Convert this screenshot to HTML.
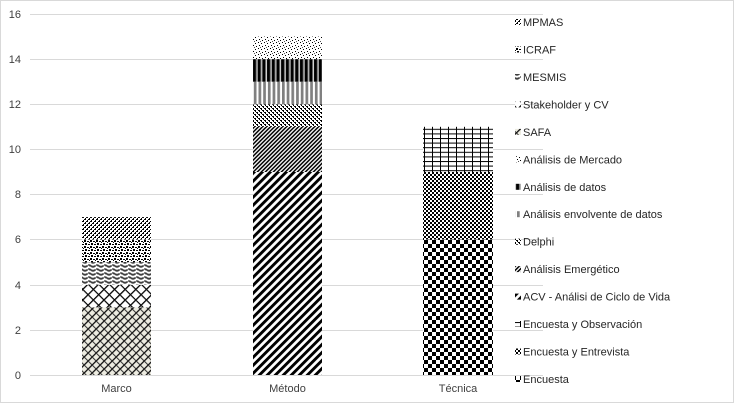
<!DOCTYPE html>
<html><head><meta charset="utf-8"><style>
html,body{margin:0;padding:0;background:#fff;}
svg{display:block;font-family:"Liberation Sans",Arial,sans-serif;}
</style></head><body>
<svg width="734" height="403" viewBox="0 0 734 403" xmlns="http://www.w3.org/2000/svg">
<defs>
  <pattern id="pEnc" width="8" height="8" patternUnits="userSpaceOnUse">
    <rect width="8" height="8" fill="#fff"/>
    <rect x="0" y="0" width="4" height="4" fill="#000"/>
    <rect x="4" y="4" width="4" height="4" fill="#000"/>
  </pattern>
  <pattern id="pEnt" width="4" height="4" patternUnits="userSpaceOnUse">
    <rect width="4" height="4" fill="#fff"/>
    <rect x="0" y="0" width="2" height="2" fill="#000"/>
    <rect x="2" y="2" width="2" height="2" fill="#000"/>
  </pattern>
  <pattern id="pObs" width="8" height="4.6" patternUnits="userSpaceOnUse">
    <rect width="8" height="4.6" fill="#fff"/>
    <rect x="0" y="0" width="1" height="4.6" fill="#000"/>
    <rect x="0" y="0" width="8" height="1" fill="#000"/>
  </pattern>
  <pattern id="pACV" width="5.66" height="5.66" patternUnits="userSpaceOnUse" patternTransform="rotate(45)">
    <rect width="5.66" height="5.66" fill="#fff"/>
    <rect x="0" y="0" width="2.9" height="5.66" fill="#000"/>
  </pattern>
  <pattern id="pEme" width="2.83" height="2.83" patternUnits="userSpaceOnUse" patternTransform="rotate(45)">
    <rect width="2.83" height="2.83" fill="#fff"/>
    <rect x="0" y="0" width="1.5" height="2.83" fill="#000"/>
  </pattern>
  <pattern id="pDel" width="4" height="4" patternUnits="userSpaceOnUse">
    <rect width="4" height="4" fill="#fff"/>
    <rect x="0" y="0" width="2" height="1" fill="#000"/>
    <rect x="1" y="1" width="1" height="1" fill="#000"/>
    <rect x="2" y="2" width="2" height="1" fill="#000"/>
    <rect x="3" y="3" width="1" height="1" fill="#000"/>
  </pattern>
  <pattern id="pEnv" width="4.7" height="4" patternUnits="userSpaceOnUse">
    <rect width="4.7" height="4" fill="#fff"/>
    <rect x="0" y="0" width="2.7" height="4" fill="#808080"/>
  </pattern>
  <pattern id="pDat" width="4.7" height="4" patternUnits="userSpaceOnUse">
    <rect width="4.7" height="4" fill="#000"/>
    <rect x="2" y="0" width="1" height="4" fill="#808080"/>
    <rect x="3" y="0" width="0.8" height="4" fill="#fff"/>
  </pattern>
  <pattern id="pMer" width="6" height="6" patternUnits="userSpaceOnUse">
    <rect width="6" height="6" fill="#fff"/>
    <rect x="0" y="0" width="1" height="1" fill="#000"/>
    <rect x="3" y="1" width="1" height="1" fill="#000"/>
    <rect x="1" y="3" width="1" height="1" fill="#000"/>
    <rect x="4" y="4" width="1" height="1" fill="#000"/>
    <rect x="2" y="5" width="1" height="1" fill="#555"/>
  </pattern>
  <pattern id="pSAFA" width="5.66" height="5.66" patternUnits="userSpaceOnUse" patternTransform="rotate(45)">
    <rect width="5.66" height="5.66" fill="#ecebe0"/>
    <rect x="0" y="0" width="1.3" height="5.66" fill="#111"/>
    <rect x="1.3" y="0" width="4.36" height="1" fill="#333"/>
  </pattern>
  <pattern id="pSta" width="7.5" height="7.5" patternUnits="userSpaceOnUse" patternTransform="rotate(45)">
    <rect width="7.5" height="7.5" fill="#fff"/>
    <rect x="0" y="0" width="1.3" height="7.5" fill="#000"/>
    <rect x="1.3" y="3" width="6.2" height="1.2" fill="#000"/>
  </pattern>
  <pattern id="pMES" width="8" height="4" patternUnits="userSpaceOnUse">
    <rect width="8" height="4" fill="#fff"/>
    <path d="M0,1 L2,1 L2,2 L4,2 L4,3 L6,3 L6,2 L8,2" stroke="#000" stroke-width="1" fill="none"/>
  </pattern>
  <pattern id="pICR" width="6" height="6" patternUnits="userSpaceOnUse">
    <rect width="6" height="6" fill="#fff"/>
    <rect x="0" y="0" width="2" height="2" fill="#000"/>
    <rect x="3" y="1" width="2" height="1" fill="#000"/>
    <rect x="1" y="3" width="2" height="2" fill="#000"/>
    <rect x="4" y="4" width="2" height="1" fill="#000"/>
    <rect x="5" y="2" width="1" height="1" fill="#000"/>
  </pattern>
  <pattern id="pMPM" width="4" height="4" patternUnits="userSpaceOnUse">
    <rect width="4" height="4" fill="#fff"/>
    <rect x="0" y="3" width="2" height="1" fill="#000"/>
    <rect x="1" y="2" width="1" height="1" fill="#000"/>
    <rect x="2" y="1" width="2" height="1" fill="#000"/>
    <rect x="3" y="0" width="1" height="1" fill="#000"/>
  </pattern>
</defs>

<rect x="0.5" y="0.5" width="733" height="402" fill="#fff" stroke="#d9d9d9" stroke-width="1"/>

<g stroke="#d9d9d9" stroke-width="1">
  <line x1="30" y1="14.5" x2="543" y2="14.5"/>
  <line x1="30" y1="59.5" x2="543" y2="59.5"/>
  <line x1="30" y1="104.5" x2="543" y2="104.5"/>
  <line x1="30" y1="149.5" x2="543" y2="149.5"/>
  <line x1="30" y1="194.5" x2="543" y2="194.5"/>
  <line x1="30" y1="239.5" x2="543" y2="239.5"/>
  <line x1="30" y1="285.5" x2="543" y2="285.5"/>
  <line x1="30" y1="330.5" x2="543" y2="330.5"/>
  <line x1="30" y1="375.5" x2="543" y2="375.5"/>
</g>

<g font-size="11" fill="#404040" text-anchor="end">
  <text x="21" y="18">16</text>
  <text x="21" y="63">14</text>
  <text x="21" y="108">12</text>
  <text x="21" y="153">10</text>
  <text x="21" y="198">8</text>
  <text x="21" y="243">6</text>
  <text x="21" y="289">4</text>
  <text x="21" y="334">2</text>
  <text x="21" y="379">0</text>
</g>

<rect x="82" y="307.3" width="69" height="67.7" fill="url(#pSAFA)"/>
<rect x="82" y="284.8" width="69" height="22.5" fill="url(#pSta)"/>
<rect x="82" y="262.2" width="69" height="22.6" fill="url(#pMES)"/>
<rect x="82" y="239.6" width="69" height="22.6" fill="url(#pICR)"/>
<rect x="82" y="217.1" width="69" height="22.5" fill="url(#pMPM)"/>

<rect x="253" y="172" width="69" height="203" fill="url(#pACV)"/>
<rect x="253" y="126.8" width="69" height="45.2" fill="url(#pEme)"/>
<rect x="253" y="104.3" width="69" height="22.5" fill="url(#pDel)"/>
<rect x="253" y="81.7" width="69" height="22.6" fill="url(#pEnv)"/>
<rect x="253" y="59.1" width="69" height="22.6" fill="url(#pDat)"/>
<rect x="253" y="36.6" width="69" height="22.5" fill="url(#pMer)"/>

<rect x="423" y="239.6" width="70" height="135.4" fill="url(#pEnc)"/>
<rect x="423" y="172" width="70" height="67.6" fill="url(#pEnt)"/>
<rect x="423" y="126.8" width="70" height="45.2" fill="url(#pObs)"/>

<g font-size="11" fill="#404040" text-anchor="middle">
  <text x="116.5" y="392">Marco</text>
  <text x="287.5" y="392">Método</text>
  <text x="458" y="392">Técnica</text>
</g>

<g font-size="11" fill="#262626">
  <rect x="515" y="19" width="6" height="6" fill="url(#pMPM)"/><text x="523" y="26">MPMAS</text>
  <rect x="515" y="46.5" width="6" height="6" fill="url(#pICR)"/><text x="523" y="53.5">ICRAF</text>
  <rect x="515" y="74" width="6" height="6" fill="url(#pMES)"/><text x="523" y="81">MESMIS</text>
  <rect x="515" y="101.4" width="6" height="6" fill="url(#pSta)"/><text x="523" y="108.4">Stakeholder y CV</text>
  <rect x="515" y="128.9" width="6" height="6" fill="url(#pSAFA)"/><text x="523" y="135.9">SAFA</text>
  <rect x="515" y="156.3" width="6" height="6" fill="url(#pMer)"/><text x="523" y="163.3">Análisis de Mercado</text>
  <rect x="515" y="183.8" width="6" height="6" fill="url(#pDat)"/><text x="523" y="190.8">Análisis de datos</text>
  <rect x="515" y="211.2" width="6" height="6" fill="url(#pEnv)"/><text x="523" y="218.2">Análisis envolvente de datos</text>
  <rect x="515" y="238.7" width="6" height="6" fill="url(#pDel)"/><text x="523" y="245.7">Delphi</text>
  <rect x="515" y="266.1" width="6" height="6" fill="url(#pEme)"/><text x="523" y="273.1">Análisis Emergético</text>
  <rect x="515" y="293.6" width="6" height="6" fill="url(#pACV)"/><text x="523" y="300.6">ACV - Análisi de Ciclo de Vida</text>
  <rect x="515" y="321" width="6" height="6" fill="url(#pObs)"/><text x="523" y="328">Encuesta y Observación</text>
  <rect x="515" y="348.5" width="6" height="6" fill="url(#pEnt)"/><text x="523" y="355.5">Encuesta y Entrevista</text>
  <rect x="515" y="376" width="6" height="6" fill="url(#pEnc)"/><text x="523" y="383">Encuesta</text>
</g>
</svg>
</body></html>
